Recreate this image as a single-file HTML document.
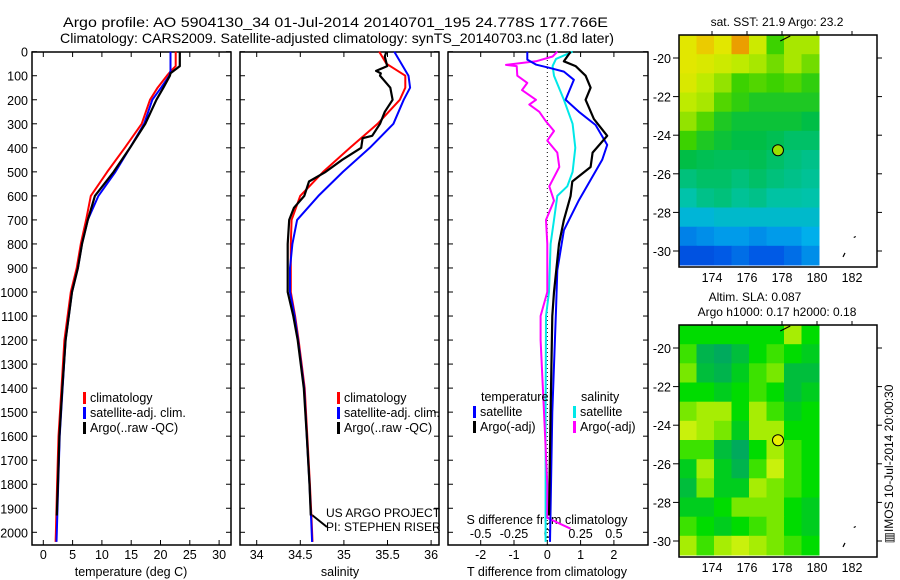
<!DOCTYPE html>
<html><head><meta charset="utf-8"><style>
html,body{margin:0;padding:0;background:#fff;}
svg{display:block;font-family:"Liberation Sans",sans-serif;}
text{fill:#000;}
</style></head><body>
<svg id="chart" width="900" height="580" viewBox="0 0 900 580" xmlns="http://www.w3.org/2000/svg">
<text x="63" y="27" font-size="14" textLength="545" lengthAdjust="spacingAndGlyphs">Argo profile: AO 5904130_34 01-Jul-2014 20140701_195 24.778S 177.766E</text>
<text x="60" y="43" font-size="14" textLength="554" lengthAdjust="spacingAndGlyphs">Climatology: CARS2009. Satellite-adjusted climatology: synTS_20140703.nc (1.8d later)</text>
<text x="131" y="576" font-size="12.5" text-anchor="middle">temperature (deg C)</text>
<text x="340" y="576" font-size="12.5" text-anchor="middle">salinity</text>
<text x="547" y="576" font-size="12.5" text-anchor="middle">T difference from climatology</text>
<text x="547" y="524" font-size="12.5" text-anchor="middle">S difference from climatology</text>
<text x="326" y="517" font-size="12">US ARGO PROJECT</text>
<text x="326" y="531" font-size="12">PI: STEPHEN RISER</text>
<line x1="312" y1="515" x2="327" y2="527" stroke="#000" stroke-width="2"/>
<text x="777" y="26" font-size="12" text-anchor="middle">sat. SST: 21.9 Argo: 23.2</text>
<text x="755" y="301" font-size="12" text-anchor="middle">Altim. SLA: 0.087</text>
<text x="777" y="316" font-size="12" text-anchor="middle">Argo h1000: 0.17 h2000: 0.18</text>
<text transform="translate(893,464) rotate(-90)" font-size="12" text-anchor="middle">▥IMOS 10-Jul-2014 20:00:30</text>
</svg>
<script>
// ---------- data ----------
const depthTicks = [0,100,200,300,400,500,600,700,800,900,1000,1100,1200,1300,1400,1500,1600,1700,1800,1900,2000];
const tempTicks = [0,5,10,15,20,25,30];
const salTicks = [34,34.5,35,35.5,36];
const tdiffTicks = [-2,-1,0,1,2];
const sdiffTicks = [-0.5,-0.25,0,0.25,0.5];
const sdiffLabels = ["-0.5","-0.25","0","0.25","0.5"];

const tDepth = [0,60,80,100,150,200,300,400,500,600,700,800,900,1000,1200,1400,1600,1800,2000,2040];
const tClim = [22.6,22.6,21.8,21.1,19.5,18.2,16.8,13.9,10.9,8.1,7.3,6.4,5.7,4.7,3.6,3.1,2.6,2.35,2.15,2.1];
const tSat  = [21.7,21.7,21.7,21.5,20.1,18.6,17.2,14.8,12.3,9.4,7.6,6.6,5.9,4.9,3.8,3.3,2.8,2.55,2.3,2.25];
const tArgoDepth = [0,60,90,100,150,200,300,400,500,600,700,800,900,1000,1200,1400,1600,1800,1930];
const tArgo = [23.3,23.3,21.7,21.6,20.5,19.3,17.4,14.8,12.0,8.8,7.6,6.6,5.9,4.9,3.8,3.25,2.75,2.5,2.3];

const sDepth = [0,50,100,150,200,300,400,500,600,700,800,900,1000,1100,1200,1400,1600,1800,1950,2040];
const sClim = [35.405,35.487,35.704,35.704,35.641,35.387,35.07,34.762,34.499,34.40,34.391,34.391,34.391,34.44,34.48,34.55,34.58,34.61,34.63,34.64];
const sSat  = [35.578,35.659,35.741,35.759,35.686,35.568,35.297,34.989,34.708,34.463,34.409,34.382,34.382,34.435,34.475,34.545,34.575,34.605,34.625,34.635];
const sArgoDepth = [0,20,60,80,90,100,150,200,250,300,350,360,400,450,500,540,600,650,700,800,900,1000,1100,1200,1400,1600,1800,1930];
const sArgo = [35.487,35.469,35.496,35.369,35.423,35.414,35.532,35.559,35.469,35.414,35.324,35.215,35.198,34.981,34.79,34.60,34.546,34.427,34.373,34.355,34.355,34.355,34.42,34.47,34.54,34.575,34.605,34.62];

const dSatTDepth = [0,33,54,67,83,117,200,250,305,388,450,618,743,910,1077,1500,2040];
const dSatT = [-0.6,-0.6,-0.33,0.06,0.5,0.8,0.55,0.95,1.45,1.8,1.65,0.95,0.5,0.3,0.26,0.15,0.08];
const dArgoTDepth = [0,40,60,100,150,200,280,350,420,480,540,600,700,800,1000,1100,1500,1930];
const dArgoT = [0.7,0.5,0.85,1.15,1.3,1.15,1.4,1.8,1.36,1.3,0.75,0.7,0.5,0.35,0.2,0.15,0.1,0.05];
const dSatSDepth = [0,30,60,100,200,300,400,500,560,600,700,800,1000,1100,1500,2040];
const dSatS = [0.19,0.065,0.04,0.05,0.125,0.19,0.21,0.19,0.15,0.075,0.05,0.025,0.0125,-0.01,-0.0125,-0.0125];
const dArgoSDepth = [0,20,40,55,60,100,130,160,200,220,250,290,330,370,420,480,560,620,700,800,1000,1100,1200,1500,1800,1940,1985];
const dArgoS = [0.075,0.04,-0.085,-0.31,-0.23,-0.225,-0.15,-0.19,-0.085,-0.135,-0.06,-0.01,0.05,0,0.075,0.09,0.015,0.05,-0.01,0,0,-0.05,-0.05,-0.025,0,0,0.175];

const lonTicks = [174,176,178,180,182];
const latTicks = [-20,-22,-24,-26,-28,-30];
const argoLon = 177.77, argoLat = -24.78;
const sstGrid = [
[0.8,0.85,0.8,0.9,0.75,0.6,0.7,0.7],
[0.8,0.78,0.75,0.72,0.7,0.65,0.7,0.65],
[0.78,0.72,0.68,0.6,0.62,0.6,0.62,0.58],
[0.72,0.7,0.62,0.58,0.55,0.55,0.55,0.55],
[0.68,0.62,0.55,0.52,0.52,0.52,0.52,0.5],
[0.6,0.55,0.52,0.5,0.5,0.48,0.45,0.45],
[0.5,0.48,0.47,0.47,0.48,0.45,0.42,0.4],
[0.42,0.45,0.45,0.42,0.45,0.42,0.4,0.38],
[0.35,0.4,0.42,0.38,0.4,0.36,0.36,0.35],
[0.28,0.28,0.3,0.3,0.3,0.3,0.3,0.3],
[0.18,0.2,0.22,0.22,0.2,0.22,0.22,0.25],
[0.1,0.1,0.12,0.15,0.12,0.12,0.15,0.2]];
const slaGrid = [
[0.5,0.5,0.5,0.5,0.5,0.5,0.8,0.5],
[0.6,0.2,0.1,0.3,0.5,0.6,0.5,0.4],
[0.7,0.3,0.2,0.4,0.6,0.7,0.3,0.3],
[0.5,0.5,0.4,0.5,0.6,0.5,0.3,0.4],
[0.7,0.8,0.8,0.5,0.8,0.6,0.4,0.5],
[0.9,0.8,0.7,0.4,0.8,0.8,0.5,0.5],
[0.6,0.6,0.3,0.1,0.5,0.8,0.6,0.5],
[0.4,0.8,0.4,0.2,0.6,0.9,0.6,0.5],
[0.3,0.7,0.4,0.4,0.8,0.7,0.6,0.5],
[0.4,0.4,0.5,0.7,0.7,0.7,0.5,0.4],
[0.6,0.5,0.4,0.5,0.6,0.7,0.5,0.4],
[0.8,0.6,0.8,0.9,0.8,0.7,0.6,0.5]];

// ---------- scales ----------
const svg = document.getElementById('chart');
const NS = 'http://www.w3.org/2000/svg';
const yD = d => 51.7 + d * 0.2403;
const xT = t => 43.3 + t * 5.86;
const xS = s => 256.7 + (s - 34) * 87.2;
const xTd = t => 547.3 + t * 33.3;
const xSd = s => xTd(s * 4);
const lonX = lon => 712 + (lon - 174) * 17.5;
const latY1 = lat => 58 + (-20 - lat) * 19.3;
const latY2 = lat => 348 + (-20 - lat) * 19.3;
const PT = 52, PB = 545;
const panels = [[32,231],[240,439],[448,648]];

function mk(tag, attrs, parent) {
  const e = document.createElementNS(NS, tag);
  for (const k in attrs) e.setAttribute(k, attrs[k]);
  (parent || svg).appendChild(e);
  return e;
}

panels.forEach((p, i) => {
  const r = mk('rect', {x:p[0], y:PT, width:p[1]-p[0], height:PB-PT, fill:'none', stroke:'#000', 'stroke-width':1.5});
  
  
  depthTicks.forEach(d => {
    const t1 = mk('line', {x1:p[0], x2:p[0]+5, y1:yD(d), y2:yD(d), stroke:'#000'});
    
    
    const t2 = mk('line', {x1:p[1], x2:p[1]-5, y1:yD(d), y2:yD(d), stroke:'#000'});
    
    
  });
});
depthTicks.forEach(d => {
  const t = mk('text', {x:28, y:yD(d)+5, 'font-size':12.5, 'text-anchor':'end'});
  t.textContent = d;
  
  
});
function xticks(vals, fx, labels, ly, top, bottom) {
  vals.forEach((v, i) => {
    const x = fx(v);
    if (top) {
      const a = mk('line', {x1:x, x2:x, y1:PT, y2:PT+5, stroke:'#000'});
      
      
    }
    if (bottom) {
      const b = mk('line', {x1:x, x2:x, y1:PB, y2:PB-5, stroke:'#000'});
      
      
    }
    const t = mk('text', {x:x, y:ly, 'font-size':12.5, 'text-anchor':'middle'});
    t.textContent = labels ? labels[i] : v;
    
    
  });
}
xticks(tempTicks, xT, null, 559, true, true);
xticks(salTicks, xS, null, 559, true, true);
xticks(tdiffTicks, xTd, null, 559, true, true);
xticks(sdiffTicks, xSd, sdiffLabels, 538, false, false);

const zl = mk('line', {x1:xTd(0), x2:xTd(0), y1:PT, y2:PB, stroke:'#000', 'stroke-dasharray':'1,3'});



function series(depths, vals, fx, color, w, name) {
  const pts = depths.map((d, i) => fx(vals[i]).toFixed(1) + ',' + yD(d).toFixed(1)).join(' ');
  const pl = mk('polyline', {points:pts, fill:'none', stroke:color, 'stroke-width':w, 'stroke-linejoin':'round'});
  
  
}
series(tDepth, tClim, xT, '#ff0000', 2, 'temperature-climatology-line');
series(tDepth, tSat, xT, '#0000ff', 2, 'temperature-satellite-line');
series(tArgoDepth, tArgo, xT, '#000', 2.2, 'temperature-argo-line');
series(sDepth, sClim, xS, '#ff0000', 2, 'salinity-climatology-line');
series(sDepth, sSat, xS, '#0000ff', 2, 'salinity-satellite-line');
series(sArgoDepth, sArgo, xS, '#000', 2.2, 'salinity-argo-line');
series(dSatSDepth, dSatS, xSd, '#00e8e8', 2, 'salinity-diff-satellite-line');
series(dArgoSDepth, dArgoS, xSd, '#ff00ff', 2, 'salinity-diff-argo-line');
series(dSatTDepth, dSatT, xTd, '#0000ff', 2, 'temperature-diff-satellite-line');
series(dArgoTDepth, dArgoT, xTd, '#000', 2.2, 'temperature-diff-argo-line');

function legend(x, y, color, label) {
  const b = mk('rect', {x:x, y:y-10, width:3, height:12, fill:color});
  
  
  const t = mk('text', {x:x+7, y:y, 'font-size':12.5});
  t.textContent = label;
  
  
}
legend(83, 402, '#ff0000', 'climatology');
legend(83, 417, '#0000ff', 'satellite-adj. clim.');
legend(83, 432, '#000', 'Argo(..raw -QC)');
legend(337, 402, '#ff0000', 'climatology');
legend(337, 417, '#0000ff', 'satellite-adj. clim.');
legend(337, 432, '#000', 'Argo(..raw -QC)');
legend(473, 416, '#0000ff', 'satellite');
legend(473, 431, '#000', 'Argo(-adj)');
legend(573, 416, '#00e8e8', 'satellite');
legend(573, 431, '#ff00ff', 'Argo(-adj)');
const lt1 = mk('text', {x:481, y:401, 'font-size':12.5});
lt1.textContent = 'temperature';


const lt2 = mk('text', {x:581, y:401, 'font-size':12.5});
lt2.textContent = 'salinity';



function lerp(a, b, t) { return a.map((v, i) => Math.round(v + (b[i]-v)*t)); }
function cmap(stops, v) {
  for (let i = 0; i < stops.length-1; i++) {
    if (v <= stops[i+1][0]) {
      const t = (v - stops[i][0]) / (stops[i+1][0] - stops[i][0]);
      return 'rgb(' + lerp(stops[i][1], stops[i+1][1], Math.max(0, t)).join(',') + ')';
    }
  }
  return 'rgb(' + stops[stops.length-1][1].join(',') + ')';
}
const sstStops = [[0,[0,40,200]],[0.12,[0,90,230]],[0.25,[0,175,235]],[0.35,[0,195,170]],[0.5,[0,190,70]],[0.6,[60,210,0]],[0.72,[190,235,0]],[0.82,[235,230,0]],[0.92,[235,140,0]],[1,[200,60,0]]];
const slaStops = [[0,[0,160,110]],[0.3,[0,190,60]],[0.5,[0,220,0]],[0.75,[150,235,0]],[1,[235,245,20]]];

function drawMap(grid, stops, top, latY, name) {
  const g = mk('g', {});
  
  
  const x0 = 679, x1 = 819, y0 = top, y1 = top + 230;
  const rows = grid.length, cols = grid[0].length;
  const cw = (x1-x0)/cols, ch = (y1-y0)/rows;
  grid.forEach((row, r) => row.forEach((v, c) => {
    const cell = mk('rect', {x:(x0+c*cw).toFixed(1), y:(y0+r*ch).toFixed(1), width:(cw+0.5).toFixed(1), height:(ch+0.5).toFixed(1), fill:cmap(stops, v)}, g);
    
    
  }));
  const fr = mk('rect', {x:679, y:y0, width:198, height:232, fill:'none', stroke:'#000', 'stroke-width':1.5});
  
  
  lonTicks.forEach(l => {
    const a = mk('line', {x1:lonX(l), x2:lonX(l), y1:y0, y2:y0-4, stroke:'#000'});
    
    
    const t = mk('text', {x:lonX(l), y:y0+247, 'font-size':12.5, 'text-anchor':'middle'});
    t.textContent = l;
    
    
  });
  latTicks.forEach(l => {
    const a = mk('line', {x1:673, x2:679, y1:latY(l), y2:latY(l), stroke:'#000'});
    
    
    const b = mk('line', {x1:877, x2:882, y1:latY(l), y2:latY(l), stroke:'#000'});
    
    
    const t = mk('text', {x:671, y:latY(l)+5, 'font-size':12.5, 'text-anchor':'end'});
    t.textContent = l;
    
    
  });
  const isl = mk('path', {d:'M' + lonX(177.9) + ',' + (y0+6) + ' l6,-3 l4,-2 M' + lonX(182.1) + ',' + latY(-29.3) + ' l2,-1 M' + lonX(181.6) + ',' + latY(-30.1) + ' l-2,4', stroke:'#000', fill:'none', 'stroke-width':1.2});
  
  
  const m = mk('circle', {cx:lonX(argoLon), cy:latY(argoLat), r:5.5, fill:name === 'sst-map' ? '#9be000' : '#e8f000', stroke:'#000', 'stroke-width':1});
  
  
}
drawMap(sstGrid, sstStops, 35, latY1, 'sst-map');
drawMap(slaGrid, slaStops, 325, latY2, 'sla-map');
</script>
</body></html>
